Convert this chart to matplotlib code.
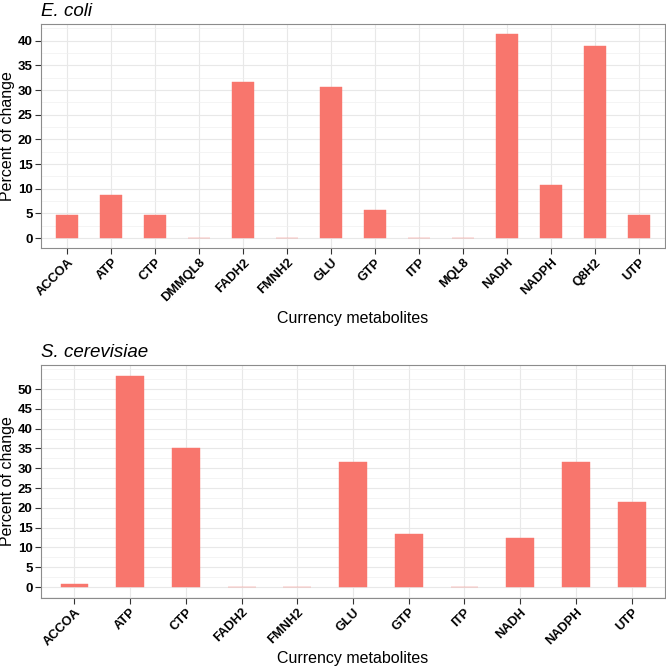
import numpy as np
import matplotlib
matplotlib.use("Agg")
import matplotlib.pyplot as plt
from matplotlib.ticker import MultipleLocator, FixedLocator

ecoli_metabolites = ["ACCOA", "ATP", "CTP", "DMMQL8", "FADH2", "FMNH2", "GLU",
                     "GTP", "ITP", "MQL8", "NADH", "NADPH", "Q8H2", "UTP"]
ecoli_change = [4.7, 8.7, 4.7, 0, 31.7, 0, 30.7, 5.7, 0, 0, 41.3, 10.7, 39.0, 4.7]

yeast_metabolites = ["ACCOA", "ATP", "CTP", "FADH2", "FMNH2", "GLU", "GTP",
                     "ITP", "NADH", "NADPH", "UTP"]
yeast_change = [0.9, 53.4, 35.1, 0, 0, 31.5, 13.5, 0, 12.5, 31.5, 21.5]

plt.rcParams.update({
    "font.family": ["Liberation Sans", "DejaVu Sans"],
})

BAR = "#F8766D"


def panel(ax, names, vals, title, xlabelpad):
    x = np.arange(len(names))
    vals = np.asarray(vals, dtype=float)
    ax.bar(x, vals, width=0.5, color=BAR, edgecolor=BAR, linewidth=0.3, zorder=3)

    top = vals.max()
    pad = 0.05 * top
    ax.set_ylim(-pad, top + pad)
    ax.set_xlim(-0.6, len(names) - 0.4)

    # breaks stop at the last multiple of 5 below the data maximum
    ax.yaxis.set_major_locator(FixedLocator(np.arange(0, top + 0.01, 5)))
    ax.yaxis.set_minor_locator(MultipleLocator(2.5))
    ax.set_xticks(x)
    ax.set_xticklabels(names, rotation=45, ha="right", rotation_mode="anchor",
                       fontweight="bold", fontsize=9.3)
    for lab in ax.get_yticklabels():
        lab.set_fontweight("bold")
        lab.set_fontsize(9.5)

    ax.grid(which="major", color="#E8E8E8", linewidth=0.8, zorder=0)
    ax.grid(which="minor", axis="y", color="#F0F0F0", linewidth=0.5, zorder=0)
    ax.tick_params(which="minor", length=0)
    ax.tick_params(which="major", length=4, width=0.8, color="#333333",
                   labelcolor="black", pad=2)
    for s in ax.spines.values():
        s.set_color("#8C8C8C")
        s.set_linewidth(0.8)

    ax.set_ylabel("Percent of change", fontsize=11.5, labelpad=2)
    ax.set_xlabel("Currency metabolites", fontsize=11.5, labelpad=xlabelpad)
    ax.set_title(title, loc="left", fontstyle="italic", fontsize=13.5, pad=6)


fig = plt.figure(figsize=(6.66, 6.69), dpi=100)
ax1 = fig.add_axes([0.0616, 0.629, 0.937, 0.335])
ax2 = fig.add_axes([0.0616, 0.1066, 0.937, 0.3478])

panel(ax1, ecoli_metabolites, ecoli_change, "E. coli", 5)
panel(ax2, yeast_metabolites, yeast_change, "S. cerevisiae", 2)

fig.savefig("out.png", dpi=100, facecolor="white")
